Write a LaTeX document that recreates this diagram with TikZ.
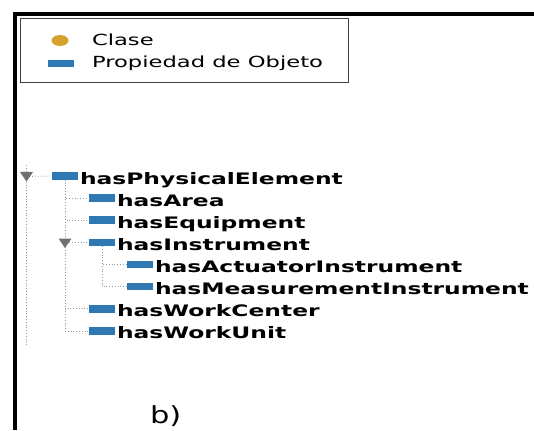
\documentclass[tikz,border=0pt]{standalone}
\usepackage{fontspec}
\setmainfont{DejaVu Sans}
\usetikzlibrary{calc,shapes.geometric}
\definecolor{propblue}{HTML}{2E78B4}
\definecolor{classgold}{HTML}{D6A22E}
\definecolor{treeline}{HTML}{9A9A9A}
\definecolor{togglegray}{HTML}{707070}
\newcommand{\wide}[1]{\scalebox{1.48}[1]{#1}}
\tikzset{
  every node/.style={inner sep=0pt, outer sep=0pt},
  propbar/.style={fill=propblue, minimum width=26pt, minimum height=7.5pt},
  classdot/.style={ellipse, fill=classgold, minimum width=17pt, minimum height=11pt},
  proplabel/.style={anchor=base west, font=\fontsize{15.8}{18}\selectfont\bfseries},
  legendlabel/.style={anchor=base west, font=\fontsize{15.3}{18}\selectfont},
  branch/.style={draw=treeline, dotted, line width=0.8pt},
  toggle/.style={fill=togglegray},
}
\begin{document}
\begin{tikzpicture}[x=1pt, y=-1pt]
\useasboundingbox (0,0) rectangle (534,430);
\fill[white] (0,0) rectangle (534,430);

% frame corner
\draw[line width=4pt] (14.6,430) -- (14.6,13.8) -- (534,13.8);

% legend
\draw[draw=black!75, line width=1.2pt, fill=white] (20.7,18.3) rectangle (348.3,82.7);
\node[classdot] (lgclass) at (60,40.5) {};
\node[legendlabel] (lgclasst) at (92,45.7) {\wide{Clase}};
\node[propbar] (lgprop) at (61,63.5) {};
\node[legendlabel] (lgpropt) at (92,67.7) {\wide{Propiedad de Objeto}};

% tree: toggles
\coordinate (top) at (26.5,165);
\coordinate (bottom) at (26.5,346);
\coordinate (t0) at (26.5,176.5);

% tree: property bars
\node[propbar] (p0) at (65,176) {};
\node[propbar] (p1) at (102,198.1) {};
\node[propbar] (p2) at (102,220.2) {};
\node[propbar] (p3) at (102,242.5) {};
\node[propbar] (p4) at (140,264.6) {};
\node[propbar] (p5) at (140,286.7) {};
\node[propbar] (p6) at (102,308.8) {};
\node[propbar] (p7) at (102,330.9) {};
\coordinate (t3) at ($(p0 |- p3)+(0,0.5)$);

% tree: labels
\node[proplabel] (l0) at ($(p0.east)+(2,8)$) {\wide{hasPhysicalElement}};
\node[proplabel] (l1) at ($(p1.east)+(2,8)$) {\wide{hasArea}};
\node[proplabel] (l2) at ($(p2.east)+(2,8)$) {\wide{hasEquipment}};
\node[proplabel] (l3) at ($(p3.east)+(2,8)$) {\wide{hasInstrument}};
\node[proplabel] (l4) at ($(p4.east)+(2,8)$) {\wide{hasActuatorInstrument}};
\node[proplabel] (l5) at ($(p5.east)+(2,8)$) {\wide{hasMeasurementInstrument}};
\node[proplabel] (l6) at ($(p6.east)+(2,8)$) {\wide{hasWorkCenter}};
\node[proplabel] (l7) at ($(p7.east)+(2,8)$) {\wide{hasWorkUnit}};

% tree: connecting lines
\draw[branch] (top) -- (bottom);
\draw[branch] (t0) -- (p0.west);
\draw[branch] (p0.south) |- (p7.west);
\foreach \n in {1,2,3,6} \draw[branch] (p0.south) |- (p\n.west);
\draw[branch] (p3.south) |- (p5.west);
\draw[branch] (p3.south) |- (p4.west);

% tree: expand toggles
\fill[toggle] ($(t0)+(-6.5,-4.5)$) -- ($(t0)+(6.5,-4.5)$) -- ($(t0)+(0,5)$) -- cycle;
\fill[toggle] ($(t3)+(-6.5,-4.5)$) -- ($(t3)+(6.5,-4.5)$) -- ($(t3)+(0,5)$) -- cycle;

% caption
\node[anchor=base west, font=\fontsize{23.5}{26}\selectfont] (cap) at (150,423) {\scalebox{1.3}[1]{b)}};
\end{tikzpicture}
\end{document}
